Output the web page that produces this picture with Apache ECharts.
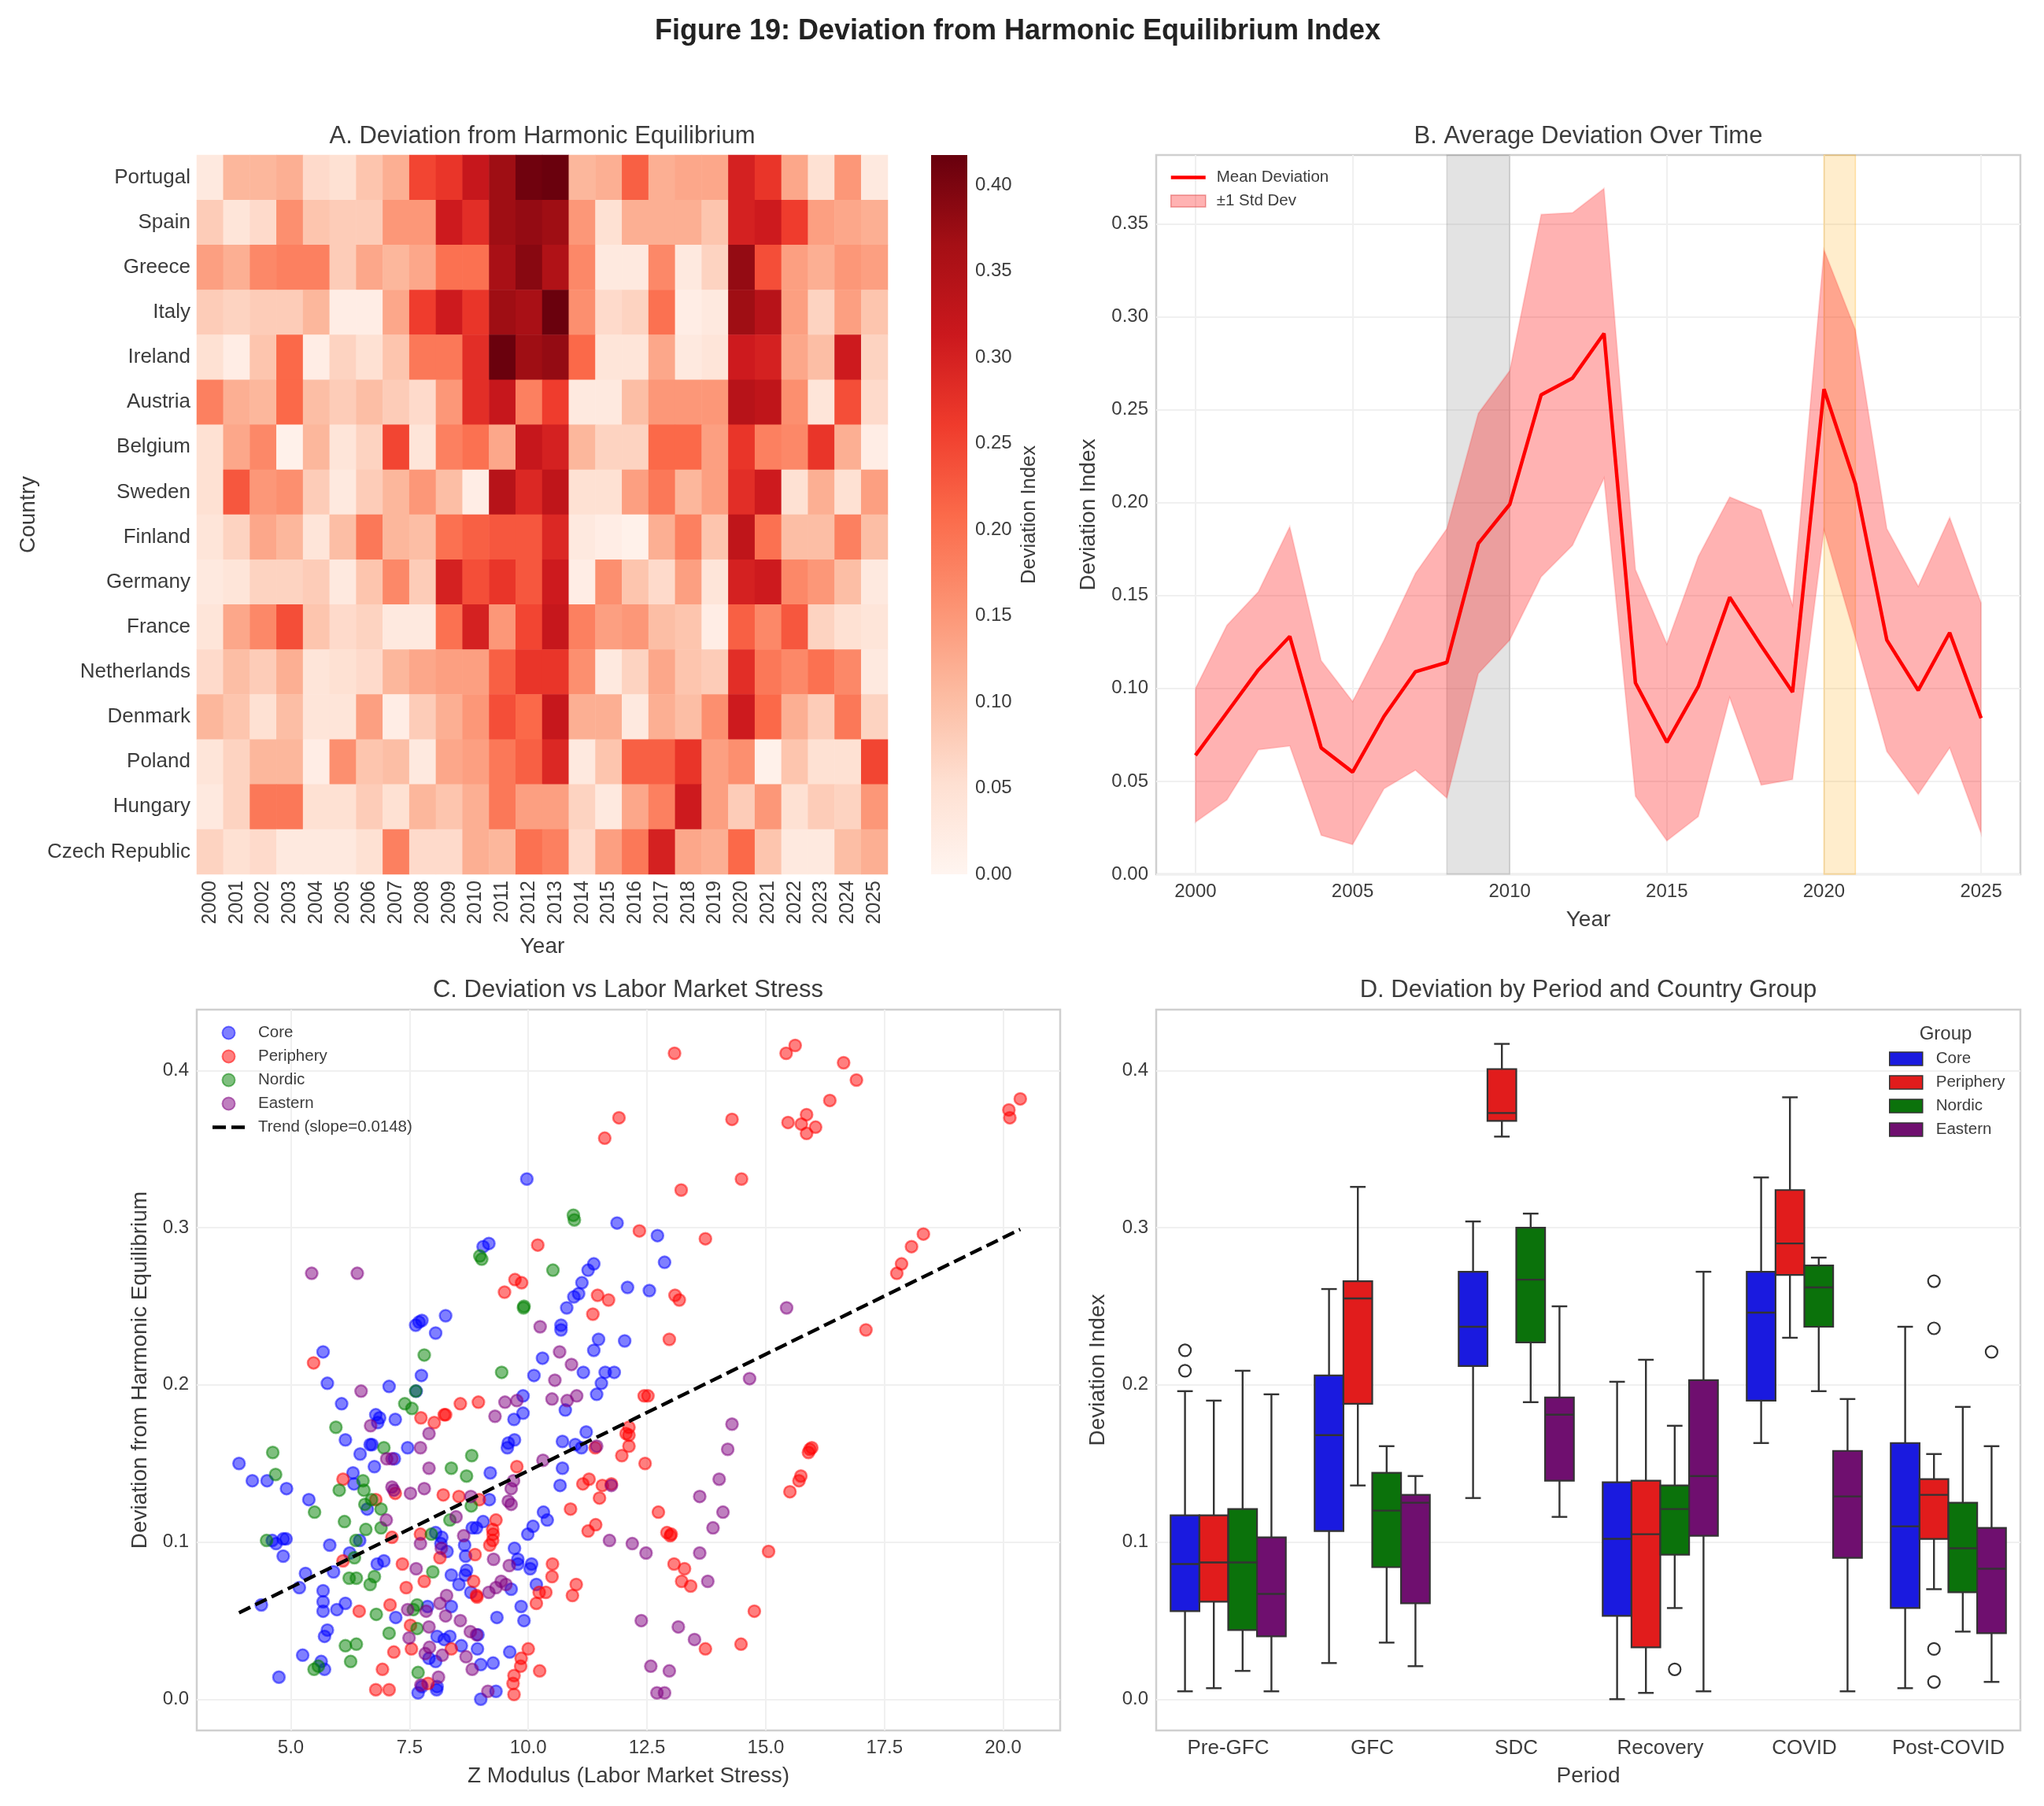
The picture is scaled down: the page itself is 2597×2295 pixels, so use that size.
<!DOCTYPE html>
<html>
<head>
<meta charset="utf-8">
<title>Figure 19</title>
<script src="https://cdn.jsdelivr.net/npm/echarts@6/dist/echarts.min.js"></script>
<style>
  html, body { margin: 0; padding: 0; background: #fff; }
  #chart { width: 2597px; height: 2295px; }
</style>
</head>
<body>
<div id="chart"></div>
<script>
const years = ['2000','2001','2002','2003','2004','2005','2006','2007','2008','2009','2010','2011','2012','2013','2014','2015','2016','2017','2018','2019','2020','2021','2022','2023','2024','2025']
const countries = ['Portugal','Spain','Greece','Italy','Ireland','Austria','Belgium','Sweden','Finland','Germany','France','Netherlands','Denmark','Poland','Hungary','Czech Republic']
const heatRows = [
  [.03,.11,.11,.12,.06,.05,.09,.12,.25,.27,.32,.37,.41,.415,.11,.12,.22,.12,.13,.13,.30,.27,.13,.05,.15,.03],
  [.08,.04,.06,.16,.09,.08,.08,.15,.15,.31,.28,.37,.38,.37,.15,.05,.12,.12,.12,.09,.30,.31,.26,.14,.13,.12],
  [.14,.12,.17,.18,.18,.08,.13,.11,.13,.20,.20,.36,.39,.35,.17,.03,.03,.17,.03,.07,.38,.24,.14,.12,.15,.14],
  [.08,.07,.08,.08,.11,.02,.02,.13,.26,.31,.27,.37,.36,.415,.16,.06,.07,.20,.02,.03,.37,.34,.14,.07,.14,.09],
  [.05,.02,.09,.21,.02,.07,.05,.09,.19,.19,.28,.415,.37,.38,.21,.04,.04,.13,.03,.04,.31,.30,.13,.10,.31,.07],
  [.18,.12,.11,.21,.10,.08,.10,.08,.06,.15,.28,.32,.18,.26,.03,.03,.10,.15,.15,.15,.34,.33,.16,.04,.24,.06],
  [.05,.13,.17,.01,.11,.04,.07,.25,.04,.18,.20,.13,.32,.30,.11,.07,.07,.21,.21,.14,.27,.18,.17,.27,.12,.02],
  [.05,.23,.15,.16,.08,.03,.08,.11,.15,.10,.02,.34,.29,.33,.05,.05,.14,.19,.11,.14,.28,.31,.05,.12,.05,.14],
  [.04,.07,.13,.11,.04,.10,.19,.11,.10,.20,.22,.23,.23,.29,.03,.02,.01,.12,.18,.09,.33,.20,.10,.10,.18,.10],
  [.03,.04,.07,.07,.08,.03,.09,.17,.08,.30,.24,.27,.23,.31,.02,.16,.09,.06,.14,.04,.30,.31,.17,.15,.10,.03],
  [.04,.13,.17,.24,.09,.06,.07,.03,.03,.20,.30,.15,.25,.32,.18,.14,.15,.10,.09,.02,.22,.17,.23,.07,.05,.04],
  [.06,.10,.08,.12,.04,.05,.06,.11,.13,.14,.14,.22,.27,.27,.16,.03,.07,.13,.09,.08,.28,.19,.17,.20,.17,.03],
  [.11,.09,.05,.10,.04,.04,.14,.02,.08,.12,.15,.24,.21,.32,.12,.12,.03,.12,.10,.16,.31,.21,.12,.08,.19,.07],
  [.04,.07,.11,.11,.02,.16,.09,.10,.03,.13,.14,.19,.22,.29,.03,.09,.22,.22,.27,.14,.16,.01,.09,.05,.05,.25],
  [.03,.07,.19,.19,.05,.05,.08,.05,.11,.09,.12,.19,.14,.14,.07,.03,.13,.18,.31,.14,.08,.15,.05,.08,.07,.15],
  [.07,.05,.06,.03,.03,.03,.05,.18,.06,.06,.12,.11,.20,.18,.06,.14,.19,.30,.13,.12,.21,.09,.03,.03,.10,.12],
]

const meanDev = [.064,.087,.110,.128,.068,.055,.085,.109,.114,.178,.199,.258,.267,.291,.103,.071,.101,.149,.123,.098,.261,.210,.126,.099,.130,.084]
const upperDev = [.100,.134,.152,.187,.115,.093,.126,.162,.186,.248,.271,.355,.356,.369,.164,.124,.171,.203,.196,.145,.336,.293,.186,.155,.192,.146]
const lowerDev = [.028,.040,.067,.069,.021,.016,.046,.056,.041,.108,.126,.160,.177,.213,.042,.018,.031,.095,.048,.051,.185,.127,.066,.043,.068,.022]

const corePoints = [
  [9.97,.331],[11.87,.303],[9.17,.290],[9.05,.288],[11.38,.277],[11.26,.273],[11.13,.265],[11.06,.258],[10.96,.256],[10.81,.249],
  [12.09,.262],[10.69,.238],[10.69,.235],[11.48,.229],[12.03,.228],[11.38,.222],[10.30,.217],[11.16,.208],[10.12,.206],[11.62,.208],
  [11.81,.208],[8.26,.244],[7.76,.241],[7.70,.240],[7.63,.238],[8.05,.233],[5.68,.221],[7.75,.206],[12.72,.295],[12.87,.278],[12.55,.260],
  [5.77,.201],[7.07,.199],[7.64,.196],[6.07,.188],[6.79,.181],[6.87,.179],[6.83,.176],[7.20,.178],[6.15,.165],[6.46,.156],
  [6.67,.162],[6.71,.162],[7.46,.160],[7.18,.153],[6.76,.148],[6.31,.144],[6.33,.137],[3.91,.150],[4.19,.139],[4.50,.139],
  [4.91,.134],[5.38,.127],[6.61,.121],[9.89,.193],[9.89,.182],[9.70,.178],[10.78,.184],[11.44,.194],[11.54,.201],[9.71,.165],
  [9.58,.163],[9.56,.160],[10.72,.164],[10.99,.162],[11.12,.160],[11.22,.170],[10.72,.147],[10.67,.136],[9.20,.144],[9.18,.127],
  [10.32,.119],[10.40,.114],[10.10,.110],[9.99,.105],[9.05,.113],[8.91,.109],[8.82,.109],[8.05,.106],[8.18,.103],[8.16,.099],
  [8.66,.098],[8.29,.094],[8.68,.091],[5.82,.098],[4.90,.102],[4.84,.102],[4.69,.099],[4.61,.101],[4.84,.091],[6.24,.093],
  [6.45,.101],[6.82,.086],[6.96,.088],[5.31,.080],[5.90,.081],[5.18,.071],[4.38,.060],[5.68,.069],[5.68,.062],[5.68,.056],
  [5.97,.057],[6.15,.061],[7.21,.052],[7.88,.059],[8.38,.059],[8.70,.082],[8.67,.079],[8.38,.079],[8.54,.073],[8.79,.068],
  [9.71,.096],[9.78,.089],[9.78,.086],[10.07,.086],[10.04,.083],[10.17,.073],[9.64,.070],[9.85,.059],[9.91,.050],[9.34,.052],
  [5.77,.044],[5.71,.040],[5.25,.028],[5.64,.024],[5.71,.019],[4.75,.014],[8.08,.040],[8.23,.038],[8.35,.040],[8.59,.034],
  [8.94,.041],[8.93,.032],[9.61,.030],[7.91,.026],[8.05,.024],[9.00,.022],[9.26,.023],[7.68,.004],[8.07,.006],[8.08,.008],
  [7.76,.008],[9.32,.005],[9.00,.000],
]
const peripheryPoints = [
  [11.91,.370],[11.61,.357],[10.20,.289],[9.72,.267],[9.86,.265],[9.50,.259],[11.46,.257],[11.69,.254],[11.36,.245],[5.48,.214],
  [13.08,.411],[15.43,.411],[15.62,.416],[16.64,.405],[16.91,.394],[16.35,.381],[15.86,.372],[15.47,.367],[15.75,.366],[16.05,.364],
  [15.86,.360],[14.29,.369],[14.49,.331],[13.22,.324],[12.34,.298],[13.73,.293],[13.09,.257],[13.18,.254],[12.97,.229],[18.32,.296],
  [18.07,.288],[17.86,.277],[17.76,.271],[17.11,.235],[20.36,.382],[20.12,.375],[20.14,.370],
  [8.57,.188],[8.95,.189],[7.74,.179],[8.02,.176],[8.23,.181],[8.26,.181],[9.76,.148],[11.41,.160],[12.06,.169],[12.12,.168],
  [12.12,.161],[11.97,.155],[6.10,.140],[7.20,.131],[6.79,.127],[8.21,.130],[8.54,.129],[8.97,.127],[11.15,.137],[11.28,.140],
  [11.56,.136],[11.75,.137],[11.50,.128],[10.89,.121],[9.32,.114],[11.26,.107],[11.42,.111],[9.25,.108],[9.26,.105],[9.25,.101],
  [9.19,.098],[7.13,.103],[7.73,.105],[8.14,.090],[8.88,.092],[6.10,.088],[7.35,.086],[10.51,.086],[10.50,.078],[8.85,.075],
  [7.81,.075],[7.43,.071],[11.01,.073],[10.93,.066],[8.91,.066],[8.92,.065],[10.23,.068],[10.37,.068],[10.17,.061],[7.09,.060],
  [6.44,.056],[7.52,.047],[7.54,.032],[7.17,.030],[8.38,.032],[10.00,.032],[9.85,.026],[9.84,.021],[9.70,.015],[9.68,.010],
  [9.70,.003],[10.24,.018],[6.93,.019],[6.79,.006],[7.07,.006],[7.89,.010],
  [12.44,.193],[12.52,.193],[12.12,.173],[12.46,.150],[12.74,.119],[12.92,.106],[13.01,.105],[12.99,.104],[13.07,.086],[13.29,.083],
  [13.23,.075],[13.42,.072],[13.73,.032],[14.48,.035],[14.76,.056],[15.06,.094],[15.51,.132],[15.70,.139],[15.74,.142],[15.90,.157],
  [15.97,.160],[15.93,.159],
]
const nordicPoints = [
  [10.95,.308],[10.97,.305],[8.98,.282],[9.02,.280],[9.91,.250],[9.90,.249],[10.52,.273],[7.81,.219],[9.44,.208],
  [7.63,.196],[7.40,.188],[7.55,.185],[5.95,.173],[6.96,.160],[4.62,.157],[4.68,.143],[8.81,.155],[8.38,.147],[8.70,.142],[6.52,.139],
  [6.54,.133],[6.02,.133],[6.70,.127],[6.56,.124],[8.80,.123],[5.50,.119],[6.90,.121],[6.13,.113],[6.58,.108],[6.90,.109],
  [8.35,.114],[7.96,.105],[6.37,.101],[4.49,.101],[6.34,.090],[7.99,.081],[6.76,.078],[6.67,.073],[6.23,.077],[6.38,.077],
  [7.66,.060],[7.58,.057],[6.80,.054],[7.66,.045],[7.07,.042],[6.15,.034],[6.38,.035],[6.26,.024],[5.49,.019],[5.58,.021],[7.68,.017],
]
const easternPoints = [
  [5.44,.271],[6.40,.271],[10.25,.237],[10.66,.221],[10.91,.213],[10.56,.203],[15.44,.249],[14.66,.204],
  [6.48,.196],[9.51,.189],[9.76,.190],[10.50,.191],[10.82,.190],[11.02,.193],[9.30,.180],[6.68,.174],[7.91,.169],[7.73,.160],
  [7.02,.153],[7.13,.153],[7.91,.147],[10.31,.152],[11.44,.161],[9.69,.139],[9.64,.134],[7.13,.135],[7.17,.133],[7.52,.131],
  [7.81,.134],[8.79,.129],[9.58,.126],[9.64,.124],[11.75,.136],[8.48,.116],[7.01,.114],[8.64,.104],[7.73,.099],[8.17,.096],
  [9.27,.089],[9.60,.085],[11.71,.101],[7.64,.083],[9.43,.075],[9.53,.073],[9.32,.071],[9.17,.068],[8.28,.066],[7.46,.057],
  [8.14,.061],[7.85,.056],[8.26,.053],[8.57,.050],[7.91,.046],[8.78,.043],[7.49,.039],[7.92,.033],[7.83,.029],[8.19,.028],
  [8.69,.027],[8.82,.019],[8.11,.014],[7.74,.009],[9.15,.005],[8.91,.041],
  [14.29,.175],[14.20,.159],[14.02,.140],[13.61,.129],[14.10,.119],[13.89,.109],[12.19,.099],[12.48,.093],[13.61,.093],[13.78,.075],
  [12.38,.050],[13.16,.046],[13.50,.038],[12.58,.021],[12.97,.018],[12.71,.004],[12.87,.004],
]
const trendLine = [[3.91,.055],[20.36,.299]]

const periods = ['Pre-GFC','GFC','SDC','Recovery','COVID','Post-COVID']
// low whisker, q1, median, q3, high whisker
const coreBoxes = [[.005,.056,.086,.117,.196],[.023,.107,.168,.206,.261],[.128,.212,.237,.272,.304],[.000,.053,.102,.138,.202],[.163,.190,.246,.272,.332],[.007,.058,.110,.163,.237]]
const peripheryBoxes = [[.007,.062,.087,.117,.190],[.136,.188,.255,.266,.326],[.358,.368,.373,.401,.417],[.004,.033,.105,.139,.216],[.230,.270,.290,.324,.383],[.070,.102,.130,.140,.156]]
const nordicBoxes = [[.018,.044,.087,.121,.209],[.036,.084,.120,.144,.161],[.189,.227,.267,.300,.309],[.058,.092,.121,.136,.174],[.196,.237,.262,.276,.281],[.043,.068,.096,.125,.186]]
const easternBoxes = [[.005,.040,.067,.103,.194],[.021,.061,.125,.130,.142],[.116,.139,.181,.192,.250],[.005,.104,.142,.203,.272],[.005,.090,.129,.158,.191],[.011,.042,.083,.109,.161]]
// period index, group index, value
const outliers = [[0,0,.222],[0,0,.209],[3,2,.019],[5,1,.266],[5,1,.236],[5,1,.032],[5,1,.011],[5,3,.221]]

const redsStops = ['#fff5f0','#fee0d2','#fcbba1','#fc9272','#fb6a4a','#ef3b2c','#cb181d','#a50f15','#67000d']
const font = 'Liberation Sans'
const textColor = '#3c3c3c'
const frame = '#cfcfcf'
const gridLine = { show: true, lineStyle: { color: '#f0f0f0', width: 2 } }

const heatData = []
heatRows.forEach((row, r) => row.forEach((v, c) => heatData.push([c, r, v])))

function axisName(text, gap) {
  return {
    name: text,
    nameLocation: 'middle',
    nameGap: gap,
    nameTextStyle: { color: textColor, fontSize: 28, fontFamily: font },
  }
}

function valueAxis(gridIndex, min, max, ticks, digits, margin) {
  return {
    type: 'value',
    gridIndex,
    min,
    max,
    axisLine: { show: false },
    axisTick: { show: false, customValues: ticks },
    axisLabel: {
      customValues: ticks,
      color: textColor,
      fontSize: 24,
      fontFamily: font,
      margin,
      formatter: (v) => v.toFixed(digits),
    },
    splitLine: gridLine,
  }
}

function titleAt(text, left, top, fontSize, color = textColor, fontWeight = 'normal') {
  return { text, left, top, padding: 0, textAlign: 'center', textStyle: { color, fontSize, fontWeight, fontFamily: font } }
}

function pointSeries(name, data, color) {
  return {
    name,
    type: 'scatter',
    xAxisIndex: 2,
    yAxisIndex: 2,
    data,
    symbolSize: 15,
    z: 3,
    itemStyle: { color: `rgba(${color},0.5)`, borderColor: `rgba(${color},0.5)`, borderWidth: 2.5, opacity: 1 },
  }
}

function boxSeries(name, boxes, groupIndex, color) {
  return {
    name,
    type: 'custom',
    xAxisIndex: 3,
    yAxisIndex: 3,
    z: 3,
    clip: false,
    itemStyle: { color },
    data: boxes.map((b, i) => [i, ...b]),
    renderItem(params, api) {
      const cat = api.value(0)
      const band = api.size([1, 0])[0]
      const width = band * 0.2
      const cx = api.coord([cat, 0])[0] + (groupIndex - 1.5) * width
      const y = (v) => api.coord([cat, v])[1]
      const low = y(api.value(1))
      const q1 = y(api.value(2))
      const med = y(api.value(3))
      const q3 = y(api.value(4))
      const high = y(api.value(5))
      const line = { stroke: '#333333', lineWidth: 2.4 }
      const seg = (x1, y1, x2, y2) => ({ type: 'line', shape: { x1, y1, x2, y2 }, style: line })
      const cap = width * 0.27
      return {
        type: 'group',
        children: [
          seg(cx, low, cx, q1),
          seg(cx, q3, cx, high),
          seg(cx - cap, low, cx + cap, low),
          seg(cx - cap, high, cx + cap, high),
          { type: 'rect', shape: { x: cx - width / 2, y: q3, width, height: q1 - q3 }, style: { fill: color, stroke: '#333333', lineWidth: 2.2 } },
          seg(cx - width / 2, med, cx + width / 2, med),
        ],
      }
    },
  }
}

const colorbarAxis = valueAxis(4, 0, 0.4175, [0, .05, .1, .15, .2, .25, .3, .35, .4], 2, 10)
colorbarAxis.axisLabel.padding = [5, 0, 0, 0]

const option = {
  animation: false,
  backgroundColor: '#fff',
  textStyle: { fontFamily: font },
  title: [
    titleAt('Figure 19: Deviation from Harmonic Equilibrium Index', 1293, 22, 36, '#222', 'bold'),
    titleAt('A. Deviation from Harmonic Equilibrium', 689, 158, 31),
    titleAt('B. Average Deviation Over Time', 2018, 158, 31),
    titleAt('C. Deviation vs Labor Market Stress', 798, 1243, 31),
    titleAt('D. Deviation by Period and Country Group', 2018, 1243, 31),
    titleAt('Group', 2472, 1302, 24),
  ],
  grid: [
    { left: 250, top: 197, width: 878, height: 914, show: false },
    { left: 1469, top: 197, width: 1098, height: 914, show: true, borderColor: frame, borderWidth: 2.5 },
    { left: 250, top: 1283, width: 1097, height: 916, show: true, borderColor: frame, borderWidth: 2.5 },
    { left: 1469, top: 1283, width: 1098, height: 916, show: true, borderColor: frame, borderWidth: 2.5 },
    { left: 1183, top: 197, width: 46, height: 914, show: false },
  ],
  xAxis: [
    {
      type: 'category',
      gridIndex: 0,
      data: years,
      ...axisName('Year', 78),
      axisLine: { show: false },
      axisTick: { show: false },
      axisLabel: { rotate: 90, interval: 0, color: textColor, fontSize: 25, fontFamily: font, margin: 8 },
      splitLine: { show: false },
    },
    { ...valueAxis(1, 1998.75, 2026.25, [2000, 2005, 2010, 2015, 2020, 2025], 0, 10), ...axisName('Year', 44) },
    { ...valueAxis(2, 3.02, 21.2, [5, 7.5, 10, 12.5, 15, 17.5, 20], 1, 10), ...axisName('Z Modulus (Labor Market Stress)', 44) },
    {
      type: 'category',
      gridIndex: 3,
      data: periods,
      ...axisName('Period', 44),
      axisLine: { show: false },
      axisTick: { show: false },
      axisLabel: { interval: 0, color: textColor, fontSize: 26, fontFamily: font, margin: 10 },
      splitLine: { show: false },
    },
    { type: 'category', gridIndex: 4, data: [''], show: false },
  ],
  yAxis: [
    {
      type: 'category',
      gridIndex: 0,
      data: countries,
      inverse: true,
      ...axisName('Country', 200),
      axisLine: { show: false },
      axisTick: { show: false },
      axisLabel: { interval: 0, color: textColor, fontSize: 26, fontFamily: font, margin: 8 },
      splitLine: { show: false },
    },
    { ...valueAxis(1, 0, 0.387, [0, .05, .1, .15, .2, .25, .3, .35], 2, 10), ...axisName('Deviation Index', 72) },
    { ...valueAxis(2, -0.0199, 0.4388, [0, .1, .2, .3, .4], 1, 10), ...axisName('Deviation from Harmonic Equilibrium', 58) },
    { ...valueAxis(3, -0.0199, 0.4388, [0, .1, .2, .3, .4], 1, 10), ...axisName('Deviation Index', 60) },
    {
      ...colorbarAxis,
      ...axisName('Deviation Index', 66),
      position: 'right',
      splitLine: { show: false },
      nameTextStyle: { color: textColor, fontSize: 25.5, fontFamily: font },
    },
  ],
  visualMap: {
    show: false,
    seriesIndex: 0,
    min: 0,
    max: 0.4175,
    dimension: 2,
    inRange: { color: redsStops },
  },
  legend: [
    {
      left: 1487,
      top: 215,
      padding: 0,
      orient: 'vertical',
      selectedMode: false,
      itemWidth: 44,
      itemHeight: 15,
      itemGap: 9,
      textStyle: { color: textColor, fontSize: 20.5, fontFamily: font, padding: [0, 0, 0, 9] },
      data: [
        { name: 'Mean Deviation', icon: 'path://M0 0H44V4.5H0Z', itemStyle: { color: '#ff0000' } },
        { name: '±1 Std Dev', icon: 'rect', itemStyle: { color: 'rgba(255,0,0,0.3)', borderColor: 'rgba(220,60,60,0.5)', borderWidth: 1.5 } },
      ],
    },
    {
      left: 270,
      top: 1302,
      padding: 0,
      orient: 'vertical',
      selectedMode: false,
      itemWidth: 41,
      itemHeight: 16,
      itemGap: 9,
      textStyle: { color: textColor, fontSize: 20.5, fontFamily: font, padding: [0, 0, 0, 12] },
      data: [
        'Core',
        'Periphery',
        'Nordic',
        'Eastern',
        { name: 'Trend (slope=0.0148)', icon: 'path://M0 0H17V4.5H0Z M24 0H41V4.5H24Z', itemStyle: { color: '#000' } },
      ],
    },
    {
      left: 2400,
      top: 1335,
      padding: 0,
      orient: 'vertical',
      selectedMode: false,
      icon: 'rect',
      itemWidth: 42,
      itemHeight: 17,
      itemGap: 9,
      textStyle: { color: textColor, fontSize: 20.5, fontFamily: font, padding: [0, 0, 0, 12] },
      itemStyle: { borderColor: '#333333', borderWidth: 1.5 },
      data: ['Core ', 'Periphery ', 'Nordic ', 'Eastern '],
    },
  ],
  series: [
    {
      name: 'heat',
      type: 'heatmap',
      xAxisIndex: 0,
      yAxisIndex: 0,
      data: heatData,
      itemStyle: { borderWidth: 0 },
    },
    {
      name: 'colorbar',
      type: 'bar',
      xAxisIndex: 4,
      yAxisIndex: 4,
      barWidth: '100%',
      data: [0.4175],
      itemStyle: {
        color: new echarts.graphic.LinearGradient(0, 1, 0, 0, redsStops.map((color, i) => ({ offset: i / 8, color }))),
      },
    },
    {
      name: 'spans',
      type: 'line',
      xAxisIndex: 1,
      yAxisIndex: 1,
      data: [],
      z: 1,
      markArea: {
        silent: true,
        data: [
          [{ xAxis: 2008, itemStyle: { color: 'rgba(128,128,128,0.22)', borderColor: 'rgba(128,128,128,0.25)', borderWidth: 1.5 } }, { xAxis: 2010 }],
          [{ xAxis: 2020, itemStyle: { color: 'rgba(255,165,0,0.2)', borderColor: 'rgba(255,165,0,0.3)', borderWidth: 1.5 } }, { xAxis: 2021 }],
        ],
      },
    },
    {
      name: '±1 Std Dev',
      type: 'custom',
      xAxisIndex: 1,
      yAxisIndex: 1,
      z: 2,
      data: years.map((y, i) => [+y, lowerDev[i], upperDev[i]]),
      renderItem(params, api) {
        // one polygon for the whole band, so only the first item draws
        if (params.dataIndex !== 0) return null
        const top = years.map((y, i) => api.coord([+y, upperDev[i]]))
        const bottom = years.map((y, i) => api.coord([+y, lowerDev[i]])).reverse()
        return {
          type: 'polygon',
          shape: { points: top.concat(bottom) },
          style: { fill: 'rgba(255,0,0,0.3)', stroke: 'rgba(255,0,0,0.12)', lineWidth: 2 },
        }
      },
    },
    {
      name: 'Mean Deviation',
      type: 'line',
      xAxisIndex: 1,
      yAxisIndex: 1,
      symbol: 'none',
      z: 3,
      data: years.map((y, i) => [+y, meanDev[i]]),
      lineStyle: { color: '#ff0000', width: 4.5 },
      itemStyle: { color: '#ff0000' },
    },
    pointSeries('Core', corePoints, '0,0,255'),
    pointSeries('Periphery', peripheryPoints, '255,0,0'),
    pointSeries('Nordic', nordicPoints, '0,128,0'),
    pointSeries('Eastern', easternPoints, '128,0,128'),
    {
      name: 'Trend (slope=0.0148)',
      type: 'line',
      xAxisIndex: 2,
      yAxisIndex: 2,
      symbol: 'none',
      z: 4,
      data: trendLine,
      lineStyle: { color: '#000', width: 4.5, type: [16, 7] },
      itemStyle: { color: '#000' },
    },
    boxSeries('Core ', coreBoxes, 0, '#1a1adf'),
    boxSeries('Periphery ', peripheryBoxes, 1, '#e11c1c'),
    boxSeries('Nordic ', nordicBoxes, 2, '#0b720b'),
    boxSeries('Eastern ', easternBoxes, 3, '#6f0f6f'),
    {
      name: 'outliers',
      type: 'custom',
      xAxisIndex: 3,
      yAxisIndex: 3,
      z: 3,
      data: outliers,
      renderItem(params, api) {
        const band = api.size([1, 0])[0]
        const point = api.coord([api.value(0), api.value(2)])
        const cx = point[0] + (api.value(1) - 1.5) * band * 0.2
        return { type: 'circle', shape: { cx, cy: point[1], r: 7.5 }, style: { fill: 'none', stroke: '#333333', lineWidth: 2.2 } }
      },
    },
  ],
}

const chart = echarts.init(document.getElementById('chart'), null, { renderer: 'canvas' })
chart.setOption(option)
</script>
</body>
</html>
